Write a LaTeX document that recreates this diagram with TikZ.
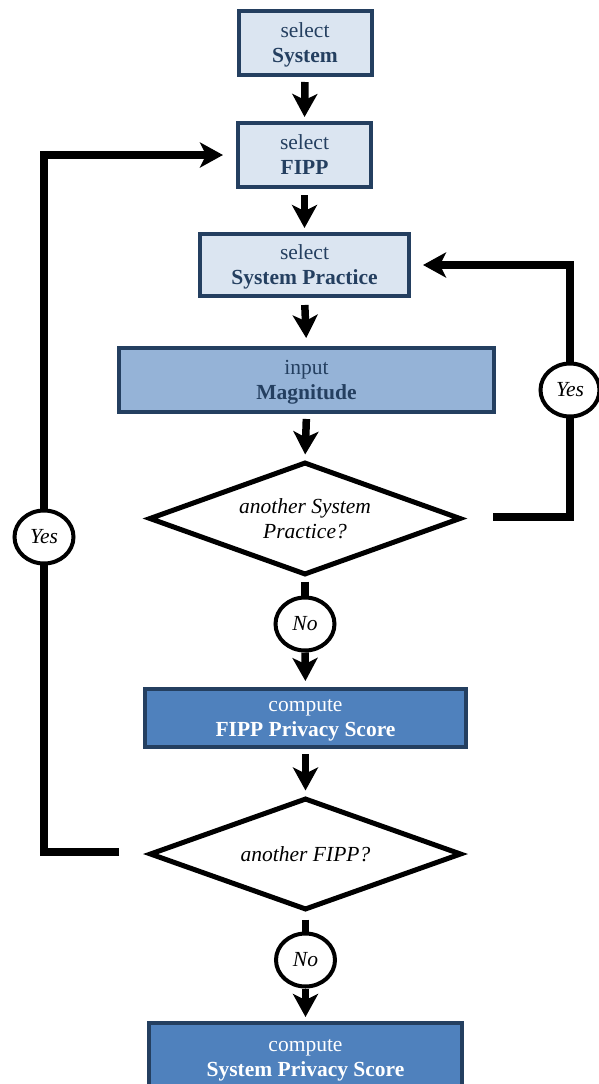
\documentclass[tikz,border=0pt]{standalone}
\usepackage{fontspec}
\setmainfont{Liberation Serif}
\usetikzlibrary{shapes.geometric,arrows.meta,calc}
\definecolor{navy}{HTML}{243F60}
\definecolor{lightbox}{HTML}{DBE5F1}
\definecolor{midbox}{HTML}{95B3D7}
\definecolor{darkbox}{HTML}{4F81BD}
\begin{document}
\begin{tikzpicture}[x=1pt,y=-1pt,
  box/.style={rectangle, draw=navy, line width=4pt, align=center, inner sep=0pt,
    text depth=0pt, font=\fontsize{21.5}{25}\selectfont},
  lightb/.style={box, fill=lightbox, text=navy},
  midb/.style={box, fill=midbox, text=navy},
  darkb/.style={box, fill=darkbox, text=white},
  decision/.style={diamond, draw=black, line width=5pt, fill=white, inner sep=0pt,
    shape aspect=2.7, align=center, font=\fontsize{21.5}{25}\selectfont\itshape},
  answer/.style={ellipse, draw=black, line width=4pt, fill=white, inner sep=0pt,
    minimum width=59pt, minimum height=53pt, font=\fontsize{21.5}{24}\selectfont\itshape},
  flow/.style={line width=7.5pt, -{Stealth[length=23pt,width=25pt,inset=6pt]}},
  stub/.style={line width=7.5pt},
  loopline/.style={line width=7.5pt, line join=miter},
]
\useasboundingbox (0,0) rectangle (598,1084);

% boxes
\node[lightb, minimum width=133pt, minimum height=64pt] (B1) at (305,43) {select\\\textbf{System}};
\node[lightb, minimum width=133pt, minimum height=64pt] (B2) at (304.5,155) {select\\\textbf{FIPP}};
\node[lightb, minimum width=209pt, minimum height=62pt] (B3) at (304.5,265) {select\\\textbf{System Practice}};
\node[midb, minimum width=375pt, minimum height=64pt] (B4) at (306.5,380) {input\\\textbf{Magnitude}};
\node[decision, minimum width=312pt, minimum height=113pt] (D1) at (305,518.5) {another System\\Practice?};
\node[darkb, minimum width=321pt, minimum height=58pt] (B5) at (305.5,718) {compute\\\textbf{FIPP Privacy Score}};
\node[decision, minimum width=312pt, minimum height=112pt] (D2) at (305.5,854) {another FIPP?};
\node[darkb, minimum width=313pt, minimum height=70pt] (B6) at (305.5,1058) {compute\\\textbf{System Privacy Score}};

% No labels
\node[answer] (N1) at (305,624) {No};
\node[answer] (N2) at (305.5,960) {No};

% main flow
\draw[flow, shorten <=5pt, shorten >=4pt] (B1.south) -- (B2.north);
\draw[flow, shorten <=6pt, shorten >=4pt] (B2.south) -- (B3.north);
\draw[flow, shorten <=7pt, shorten >=8pt] (B3.south) -- (B4.north);
\draw[flow, shorten <=5pt, shorten >=5pt] (B4.south) -- (D1.north);
\draw[stub, shorten <=4pt] (D1.south) -- (N1.north);
\draw[flow, shorten >=6pt] (N1.south) -- (B5.north);
\draw[flow, shorten <=5pt, shorten >=5pt] (B5.south) -- (D2.north);
\draw[stub, shorten <=7pt] (D2.south) -- (N2.north);
\draw[flow, shorten >=4pt] (N2.south) -- (B6.north);

% loops
\coordinate (r0) at (493,517);
\coordinate (rc) at (570,390);
\draw[loopline, -{Stealth[length=23pt,width=25pt,inset=6pt]}, shorten >=12pt]
  (r0) -| (rc) |- (B3.east);
\node[answer] (Y1) at (rc) {Yes};

\coordinate (l0) at (119,852);
\coordinate (lc) at (44,537);
\draw[loopline, -{Stealth[length=23pt,width=25pt,inset=6pt]}, shorten >=13pt]
  (l0) -| (lc) |- (B2.west);
\node[answer] (Y2) at (lc) {Yes};
\end{tikzpicture}
\end{document}
